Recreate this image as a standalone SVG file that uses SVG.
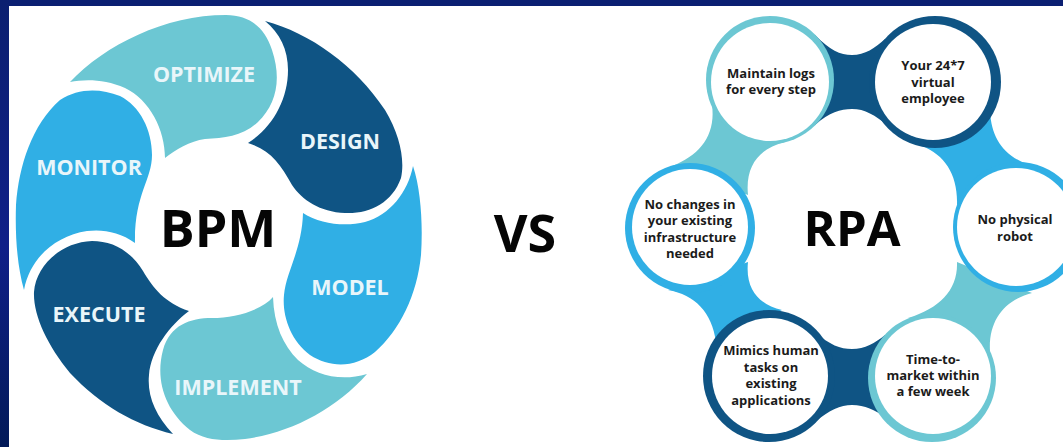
<svg xmlns="http://www.w3.org/2000/svg" width="1063" height="447" viewBox="0 0 1063 447">
<style>
.l{fill:#6cc7d3}.d{fill:#0f5484}.b{fill:#30afe5}
text{font-family:"Open Sans","Liberation Sans",sans-serif;font-weight:700;text-anchor:middle}
.w{fill:#e9f6fa;font-size:21.5px}
.k{fill:#1b1b1b;font-size:13px}
.h{fill:#050505;font-size:52px}
.r{font-size:49px}
.in{fill:#fff}
</style>
<defs><linearGradient id="side" x1="0" y1="0" x2="0" y2="1"><stop offset="0" stop-color="#0b1f70"/><stop offset=".55" stop-color="#101f88"/><stop offset="1" stop-color="#021a58"/></linearGradient></defs>
<rect width="1063" height="447" fill="#fff"/>
<rect width="1063" height="6" fill="#0b1f72"/>
<rect width="9" height="447" fill="url(#side)"/>
<g id="bpm-optimize"><path class="l" d="M70 82C105 45 165 15 226 15C250 15 265 28 272 50C282 80 276 105 258 122C243 136 225 138 205 139C190 141 175 150 165 158C165 130 150 100 125 88C105 79 85 79 70 82Z"/><text class="w" x="204" y="82">OPTIMIZE</text></g>
<g id="bpm-design"><path class="d" d="M265 21C310 33 355 65 385 110C400 135 405 160 401 178C392 203 370 214 345 213C320 212 302 200 292 185C280 163 270 150 248 143C272 128 288 100 288 70C288 50 280 33 265 21Z"/><text class="w" x="340" y="149">DESIGN</text></g>
<g id="bpm-model"><path class="b" d="M413 166C421 190 423 225 421 255C417 295 400 330 375 352C355 368 330 368 310 355C290 340 282 315 284 295C286 272 302 250 303 213C320 224 345 227 365 222C390 215 408 192 413 166Z"/><text class="w" x="350" y="295">MODEL</text></g>
<g id="bpm-implement"><path class="l" d="M273 297C262 310 235 318 212 318C190 318 170 325 163 350C155 380 165 410 190 430C205 441 225 441 245 439C290 433 335 410 367 374C340 382 315 375 298 360C283 345 274 325 273 297Z"/><text class="w" x="238" y="395">IMPLEMENT</text></g>
<g id="bpm-execute"><path class="d" d="M189 311C165 303 153 288 143 271C130 250 112 241 92 241C62 242 36 265 34 292C33 315 47 345 70 373C100 405 135 425 173 434C155 415 147 395 149 375C151 350 170 325 189 311Z"/><text class="w" x="99" y="322">EXECUTE</text></g>
<g id="bpm-monitor"><path class="b" d="M135 243C120 232 103 229 87 231C55 236 30 258 24 290C17 265 15 235 16 205C19 165 32 125 60 100C78 88 100 88 120 96C140 106 152 130 152 155C152 180 134 195 135 243Z"/><text class="w" x="89" y="175">MONITOR</text></g>
<g id="bpm-center"><text class="h" x="218" y="247">BPM</text></g>
<g id="vs"><text class="h" x="525" y="252">VS</text></g>
<g id="connectors">
<path class="d" d="M815 35C830 50 840 55 852 55C865 55 875 48 885 39L888 126C875 115 865 109 852 109C840 109 830 112 815 125Z"/>
<path class="l" d="M712 105C716 135 700 155 672 166L748 195C745 165 760 148 785 142Z"/>
<path class="b" d="M990 112C992 140 1005 160 1040 168L957 205C958 175 945 155 922 146Z"/>
<path class="l" d="M957 262C958 290 940 308 908 318L990 352C988 320 1005 300 1032 293Z"/>
<path class="b" d="M668 290C695 295 712 312 716 342L782 310C760 305 745 290 748 262Z"/>
<path class="d" d="M815 332C830 345 840 349 852 349C865 349 875 343 885 335L885 417C875 410 865 405 852 405C840 405 830 410 815 422Z"/>
</g>
<g id="rpa-logs"><circle class="l" cx="770" cy="80" r="64"/><circle class="in" cx="770" cy="82" r="59"/><text class="k"><tspan x="771" y="78">Maintain logs</tspan><tspan x="771" y="94">for every step</tspan></text></g>
<g id="rpa-virtual"><circle class="d" cx="935" cy="82" r="66"/><circle class="in" cx="933" cy="82" r="58"/><text class="k"><tspan x="933" y="70">Your 24*7</tspan><tspan x="933" y="87">virtual</tspan><tspan x="933" y="103">employee</tspan></text></g>
<g id="rpa-robot"><circle class="b" cx="1018" cy="227" r="65"/><circle class="in" cx="1016" cy="227" r="59"/><text class="k"><tspan x="1015" y="224">No physical</tspan><tspan x="1015" y="241">robot</tspan></text></g>
<g id="rpa-time"><circle class="l" cx="932" cy="378" r="64"/><circle class="in" cx="933" cy="376" r="58"/><text class="k"><tspan x="933" y="364">Time-to-</tspan><tspan x="933" y="380">market within</tspan><tspan x="933" y="396">a few week</tspan></text></g>
<g id="rpa-mimics"><circle class="d" cx="769" cy="376" r="66"/><circle class="in" cx="770" cy="376" r="58"/><text class="k"><tspan x="771" y="355">Mimics human</tspan><tspan x="771" y="372">tasks on</tspan><tspan x="771" y="388">existing</tspan><tspan x="771" y="405">applications</tspan></text></g>
<g id="rpa-changes"><circle class="b" cx="690" cy="228" r="65"/><circle class="in" cx="690" cy="227" r="58"/><text class="k"><tspan x="690" y="209">No changes in</tspan><tspan x="690" y="225">your existing</tspan><tspan x="690" y="242">infrastructure</tspan><tspan x="690" y="258">needed</tspan></text></g>
<g id="rpa-center"><text class="h r" x="852" y="246">RPA</text></g>
</svg>
